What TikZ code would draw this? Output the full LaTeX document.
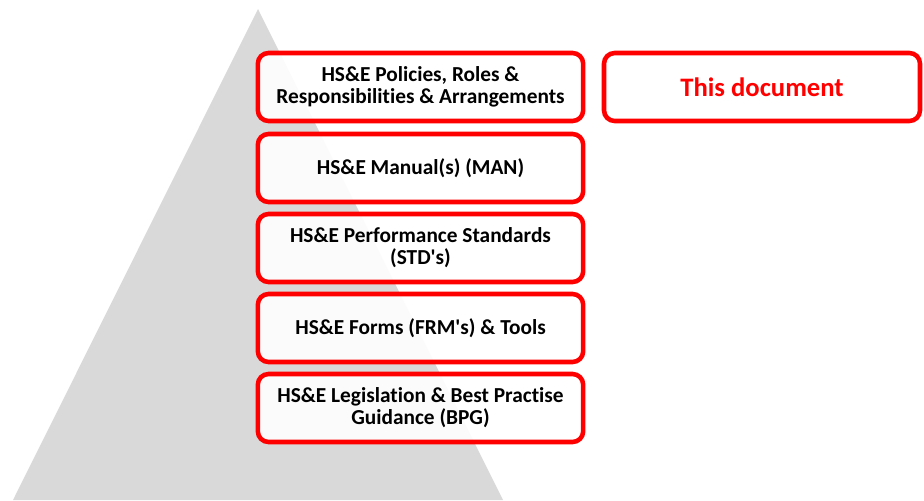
\documentclass[tikz,border=0pt]{standalone}
\usepackage{fontspec}
\setmainfont{Carlito}[Ligatures=NoCommon]
\tikzset{
  lag/.style={draw=red, line width=3.4pt, rounded corners=8pt, fill=white, fill opacity=0.9, text opacity=1,
    minimum width=244pt, minimum height=51pt, align=center, font=\fontsize{16}{16.5}\selectfont\bfseries},
}
\begin{document}
\begin{tikzpicture}[x=0.75pt,y=-0.75pt]
		\useasboundingbox (0,0) rectangle (924,500);
		% Pyramide
		\fill[black!15] (258,9) -- (13,500) -- (503,500) -- cycle;
		% Nivaaer
		\node[lag] (pol) at (420.5,87) {HS\&E Policies, Roles \&\\Responsibilities \& Arrangements};
		\node[lag] (man) at (420.5,168) {HS\&E Manual(s) (MAN)};
		\node[lag] (std) at (420.5,248) {HS\&E Performance Standards\\(STD\textquotesingle s)};
		\node[lag] (frm) at (420.5,328) {HS\&E Forms (FRM\textquotesingle s) \& Tools};
		\node[lag] (bpg) at (420.5,408) {HS\&E Legislation \& Best Practise\\Guidance (BPG)};
		% Dette dokumentet
		\node[lag, minimum width=237pt, text=red, font=\fontsize{20}{22}\selectfont\bfseries] (doc) at (762,87) {This document};
	\end{tikzpicture}
\end{document}
